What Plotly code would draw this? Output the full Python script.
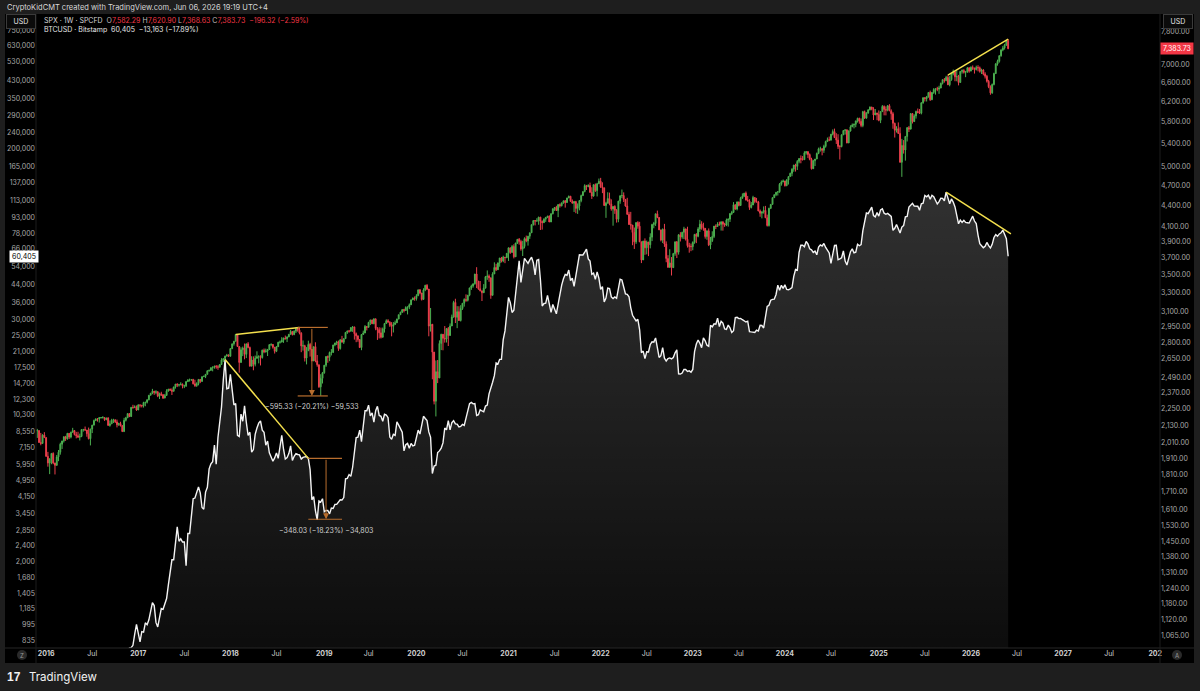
import math
import pandas as pd
import plotly.graph_objects as go

# ---------------- data (weekly bars, Monday dated) ----------------
week0 = "2015-11-23"

spx_first_open = 2089
spx_last_open = 7582.29

spx_close = [
    2090, 2092, 2012, 2005, 2061, 2044,
    1922, 1880, 1906, 1940, 1880, 1865, 1918, 1948, 2000, 2022, 2050, 2036, 2073, 2048, 2081, 2092, 2065, 2057, 2047, 2052, 2099, 2099, 2096, 2071, 2037, 2103, 2130, 2162, 2175, 2174, 2183, 2184, 2184, 2169, 2180, 2128, 2139, 2165, 2168, 2153, 2133, 2141, 2126, 2085, 2164, 2182, 2213, 2192, 2259, 2258, 2263, 2239,
    2277, 2275, 2271, 2295, 2297, 2316, 2351, 2367, 2383, 2373, 2378, 2344, 2363, 2355, 2329, 2349, 2384, 2399, 2391, 2382, 2416, 2439, 2432, 2433, 2438, 2423, 2425, 2459, 2472, 2472, 2476, 2441, 2426, 2443, 2477, 2461, 2500, 2502, 2519, 2549, 2553, 2575, 2581, 2588, 2582, 2579, 2602, 2642, 2652, 2675, 2683, 2674,
    2743, 2786, 2810, 2873, 2762, 2620, 2732, 2747, 2691, 2786, 2752, 2588, 2641, 2604, 2656, 2670, 2670, 2663, 2728, 2713, 2721, 2735, 2779, 2780, 2755, 2718, 2760, 2801, 2802, 2819, 2840, 2833, 2850, 2875, 2902, 2872, 2905, 2930, 2914, 2886, 2767, 2768, 2658, 2723, 2781, 2736, 2633, 2760, 2633, 2600, 2417, 2486, 2532,
    2596, 2671, 2665, 2707, 2708, 2776, 2793, 2804, 2743, 2822, 2801, 2834, 2893, 2907, 2905, 2940, 2946, 2881, 2860, 2826, 2752, 2873, 2887, 2950, 2942, 2990, 3014, 2977, 3026, 2932, 2919, 2889, 2847, 2926, 2979, 3007, 2992, 2962, 2952, 2970, 2986, 3023, 3067, 3093, 3120, 3110, 3141, 3146, 3169, 3221, 3240, 3235,
    3265, 3330, 3295, 3226, 3328, 3380, 3338, 2954, 2972, 2711, 2305, 2541, 2489, 2790, 2875, 2837, 2831, 2930, 2864, 2955, 3044, 3194, 3041, 3098, 3009, 3130, 3185, 3225, 3216, 3271, 3351, 3373, 3397, 3508, 3427, 3341, 3319, 3298, 3348, 3477, 3484, 3465, 3270, 3509, 3585, 3558, 3638, 3699, 3663, 3709, 3703, 3756,
    3825, 3768, 3841, 3714, 3887, 3934, 3907, 3811, 3842, 3943, 3913, 3975, 4020, 4129, 4185, 4180, 4181, 4233, 4174, 4156, 4204, 4230, 4247, 4166, 4281, 4352, 4370, 4327, 4412, 4395, 4437, 4468, 4442, 4509, 4535, 4459, 4433, 4455, 4357, 4391, 4471, 4545, 4605, 4697, 4683, 4698, 4595, 4538, 4712, 4621, 4726, 4766,
    4677, 4663, 4398, 4432, 4501, 4419, 4349, 4385, 4329, 4204, 4463, 4543, 4546, 4488, 4392, 4272, 4132, 4123, 4024, 3901, 4158, 4109, 3901, 3675, 3912, 3825, 3899, 3863, 3962, 4130, 4145, 4280, 4228, 4058, 3924, 4067, 3873, 3693, 3586, 3640, 3583, 3753, 3901, 3771, 3993, 3965, 4026, 4072, 3934, 3852, 3845, 3840,
    3895, 3999, 3973, 4071, 4136, 4090, 4079, 3970, 4046, 3862, 3917, 3971, 4109, 4105, 4138, 4133, 4169, 4136, 4124, 4192, 4205, 4282, 4299, 4410, 4348, 4450, 4399, 4505, 4536, 4582, 4478, 4464, 4370, 4406, 4516, 4457, 4450, 4320, 4288, 4308, 4328, 4224, 4117, 4358, 4415, 4514, 4559, 4595, 4604, 4719, 4755, 4770,
    4697, 4784, 4840, 4891, 4959, 5027, 5006, 5089, 5137, 5124, 5117, 5234, 5254, 5204, 5123, 4967, 5100, 5128, 5223, 5303, 5305, 5278, 5347, 5432, 5465, 5460, 5567, 5615, 5505, 5459, 5347, 5344, 5554, 5634, 5648, 5408, 5626, 5703, 5738, 5751, 5815, 5865, 5808, 5729, 5996, 5870, 5969, 6032, 6090, 6051, 5931, 5971, 5942,
    5827, 5997, 6101, 6041, 6026, 6115, 6013, 5955, 5770, 5639, 5668, 5581, 5074, 5363, 5283, 5525, 5687, 5660, 5958, 5803, 5912, 6000, 5977, 5967, 6173, 6280, 6260, 6297, 6389, 6238, 6389, 6450, 6467, 6460, 6482, 6584, 6664, 6644, 6716, 6553, 6664, 6792, 6840, 6728, 6734, 6603, 6849, 6870, 6827, 6834, 6930, 6858,
    6940, 6920, 6890, 6940, 6930, 6850, 6880, 6790, 6740, 6630, 6510, 6380, 6560, 6800, 7020, 7080, 7210, 7350, 7400, 7470, 7580.05, 7383.73,
]

spx_high = [
    2095, 2104, 2090, 2076, 2067, 2081,
    2038, 1950, 1908, 1940, 1947, 1881, 1930, 1962, 2010, 2022, 2052, 2056, 2076, 2075, 2084, 2111, 2096, 2083, 2084, 2071, 2100, 2104, 2120, 2094, 2113, 2104, 2132, 2169, 2175, 2177, 2188, 2188, 2194, 2186, 2184, 2187, 2163, 2175, 2175, 2169, 2169, 2147, 2154, 2131, 2182, 2189, 2214, 2214, 2260, 2278, 2274, 2273,
    2282, 2279, 2276, 2301, 2300, 2319, 2352, 2368, 2401, 2383, 2390, 2382, 2371, 2378, 2360, 2361, 2398, 2399, 2403, 2405, 2418, 2440, 2446, 2441, 2454, 2444, 2434, 2464, 2479, 2484, 2480, 2482, 2474, 2454, 2480, 2470, 2500, 2509, 2520, 2552, 2557, 2575, 2582, 2588, 2597, 2597, 2605, 2657, 2652, 2679, 2695, 2692,
    2743, 2787, 2810, 2873, 2870, 2763, 2754, 2761, 2789, 2786, 2802, 2761, 2674, 2673, 2680, 2718, 2683, 2682, 2733, 2743, 2742, 2736, 2779, 2791, 2774, 2746, 2764, 2804, 2816, 2848, 2842, 2863, 2855, 2877, 2916, 2901, 2912, 2941, 2939, 2941, 2895, 2817, 2777, 2756, 2815, 2795, 2718, 2760, 2800, 2685, 2601, 2520, 2539,
    2597, 2675, 2681, 2716, 2738, 2776, 2795, 2814, 2816, 2831, 2860, 2836, 2894, 2910, 2917, 2940, 2954, 2939, 2892, 2865, 2830, 2876, 2910, 2964, 2951, 2996, 3017, 3018, 3028, 3027, 2944, 2943, 2939, 2940, 2985, 3021, 3022, 3002, 2993, 2993, 3008, 3027, 3067, 3097, 3121, 3127, 3154, 3150, 3183, 3226, 3247, 3258,
    3282, 3330, 3337, 3285, 3347, 3385, 3393, 3259, 3136, 2882, 2553, 2637, 2641, 2818, 2880, 2871, 2954, 2934, 2945, 2980, 3068, 3211, 3233, 3155, 3154, 3165, 3186, 3238, 3280, 3272, 3352, 3387, 3399, 3509, 3588, 3425, 3428, 3320, 3393, 3486, 3550, 3503, 3466, 3529, 3646, 3628, 3645, 3699, 3712, 3727, 3711, 3760,
    3827, 3823, 3860, 3870, 3887, 3937, 3951, 3928, 3915, 3960, 3983, 3978, 4020, 4130, 4191, 4193, 4218, 4238, 4236, 4187, 4218, 4234, 4250, 4257, 4287, 4356, 4372, 4394, 4415, 4430, 4443, 4469, 4480, 4513, 4545, 4540, 4487, 4465, 4466, 4429, 4475, 4560, 4608, 4718, 4708, 4718, 4744, 4672, 4713, 4731, 4740, 4808,
    4819, 4749, 4665, 4453, 4595, 4590, 4489, 4386, 4402, 4347, 4466, 4546, 4637, 4594, 4471, 4512, 4308, 4307, 4081, 4090, 4158, 4177, 4168, 3838, 3913, 3946, 3918, 3880, 4013, 4141, 4167, 4281, 4325, 4203, 4062, 4077, 4140, 3907, 3733, 3807, 3710, 3762, 3905, 3912, 4002, 4028, 4034, 4100, 4052, 4101, 3889, 3879,
    3907, 4003, 4015, 4095, 4195, 4176, 4156, 4051, 4048, 4078, 3965, 4040, 4110, 4133, 4163, 4170, 4170, 4167, 4154, 4213, 4212, 4291, 4322, 4448, 4409, 4458, 4456, 4527, 4578, 4582, 4607, 4540, 4491, 4449, 4542, 4515, 4511, 4466, 4341, 4311, 4386, 4393, 4268, 4366, 4421, 4521, 4560, 4596, 4609, 4738, 4778, 4793,
    4755, 4799, 4842, 4903, 4975, 5030, 5049, 5111, 5141, 5189, 5179, 5262, 5265, 5263, 5224, 5150, 5114, 5129, 5239, 5325, 5341, 5315, 5376, 5448, 5506, 5523, 5570, 5655, 5670, 5585, 5566, 5370, 5562, 5643, 5651, 5650, 5636, 5733, 5767, 5765, 5822, 5878, 5878, 5863, 6012, 6018, 5985, 6044, 6099, 6085, 6085, 6049, 5966,
    6021, 6000, 6128, 6120, 6101, 6128, 6147, 6043, 5987, 5783, 5715, 5787, 5695, 5481, 5459, 5528, 5700, 5720, 5964, 5968, 5944, 6017, 6059, 6050, 6187, 6284, 6291, 6316, 6395, 6428, 6395, 6481, 6470, 6509, 6532, 6600, 6672, 6700, 6750, 6764, 6744, 6808, 6890, 6850, 6870, 6770, 6855, 6895, 6900, 6860, 6945, 6945,
    6965, 6985, 6935, 6980, 6990, 6960, 6910, 6900, 6830, 6770, 6660, 6540, 6580, 6820, 7040, 7120, 7230, 7370, 7450, 7500, 7600, 7620.90,
]

spx_low = [
    2070, 2042, 2008, 1993, 2005, 2043,
    1918, 1857, 1812, 1872, 1872, 1810, 1871, 1891, 1932, 1969, 2011, 2022, 2030, 2035, 2039, 2077, 2059, 2039, 2043, 2025, 2047, 2085, 2090, 2050, 2032, 1992, 2075, 2131, 2159, 2155, 2148, 2177, 2177, 2160, 2165, 2127, 2119, 2139, 2145, 2145, 2114, 2125, 2121, 2084, 2084, 2156, 2183, 2187, 2188, 2248, 2253, 2233,
    2245, 2258, 2258, 2257, 2267, 2288, 2312, 2355, 2359, 2354, 2359, 2336, 2322, 2345, 2322, 2328, 2374, 2379, 2386, 2353, 2384, 2403, 2415, 2419, 2431, 2405, 2407, 2416, 2457, 2459, 2466, 2437, 2417, 2417, 2429, 2447, 2474, 2496, 2488, 2520, 2541, 2547, 2544, 2566, 2566, 2557, 2576, 2598, 2624, 2640, 2676, 2673,
    2682, 2737, 2769, 2808, 2759, 2533, 2648, 2675, 2647, 2658, 2745, 2585, 2594, 2553, 2586, 2660, 2612, 2594, 2653, 2701, 2707, 2676, 2731, 2765, 2742, 2698, 2711, 2770, 2788, 2800, 2795, 2827, 2802, 2848, 2877, 2864, 2867, 2887, 2900, 2874, 2710, 2724, 2628, 2603, 2722, 2671, 2631, 2649, 2621, 2583, 2409, 2346, 2444,
    2524, 2582, 2617, 2631, 2681, 2705, 2764, 2775, 2722, 2733, 2800, 2785, 2848, 2879, 2891, 2900, 2898, 2825, 2801, 2805, 2750, 2728, 2874, 2887, 2912, 2955, 2964, 2975, 2972, 2914, 2822, 2836, 2835, 2855, 2891, 2980, 2990, 2946, 2856, 2892, 2967, 2991, 3024, 3067, 3084, 3091, 3121, 3070, 3124, 3184, 3223, 3212,
    3214, 3264, 3281, 3214, 3234, 3315, 3328, 2856, 2901, 2478, 2281, 2192, 2447, 2632, 2729, 2727, 2797, 2798, 2766, 2909, 2970, 3037, 2984, 2934, 3004, 2999, 3116, 3150, 3200, 3204, 3260, 3329, 3354, 3387, 3349, 3330, 3313, 3209, 3323, 3354, 3441, 3419, 3233, 3279, 3511, 3543, 3564, 3594, 3645, 3647, 3636, 3697,
    3663, 3750, 3784, 3694, 3725, 3874, 3865, 3789, 3723, 3818, 3896, 3853, 3940, 4035, 4117, 4119, 4172, 4128, 4057, 4062, 4155, 4167, 4219, 4165, 4165, 4272, 4321, 4320, 4233, 4368, 4385, 4425, 4368, 4446, 4513, 4457, 4428, 4306, 4288, 4278, 4329, 4446, 4540, 4595, 4630, 4672, 4585, 4495, 4529, 4600, 4532, 4733,
    4662, 4582, 4395, 4223, 4431, 4402, 4324, 4115, 4279, 4157, 4162, 4424, 4507, 4450, 4381, 4267, 4124, 4062, 3858, 3811, 3875, 4074, 3900, 3637, 3705, 3738, 3743, 3722, 3818, 3911, 4080, 4112, 4218, 4058, 3907, 3886, 3837, 3647, 3584, 3637, 3491, 3590, 3726, 3698, 3740, 3906, 3941, 3938, 3918, 3828, 3764, 3783,
    3794, 3877, 3885, 3961, 4031, 4061, 4047, 3943, 3928, 3847, 3808, 3899, 3950, 4069, 4099, 4114, 4049, 4048, 4099, 4109, 4103, 4166, 4261, 4328, 4337, 4328, 4385, 4405, 4499, 4523, 4474, 4463, 4335, 4356, 4415, 4431, 4445, 4316, 4238, 4216, 4283, 4223, 4104, 4103, 4347, 4412, 4511, 4537, 4546, 4587, 4696, 4751,
    4682, 4688, 4714, 4842, 4845, 4918, 4920, 4946, 5057, 5057, 5104, 5118, 5203, 5146, 5107, 4953, 5000, 5011, 5127, 5211, 5256, 5191, 5234, 5324, 5432, 5440, 5447, 5545, 5497, 5390, 5302, 5120, 5330, 5561, 5560, 5403, 5406, 5615, 5703, 5674, 5696, 5784, 5762, 5696, 5696, 5853, 5858, 5955, 6023, 6024, 5833, 5933, 5829,
    5809, 5774, 6001, 5924, 5923, 6003, 6008, 5837, 5667, 5505, 5597, 5573, 5069, 4835, 5221, 5101, 5434, 5607, 5773, 5767, 5845, 5861, 5963, 5952, 5943, 6157, 6201, 6201, 6281, 6212, 6229, 6359, 6343, 6415, 6360, 6482, 6560, 6600, 6630, 6550, 6520, 6640, 6760, 6630, 6630, 6540, 6600, 6800, 6800, 6720, 6820, 6820,
    6850, 6880, 6800, 6870, 6850, 6820, 6790, 6760, 6690, 6600, 6480, 6340, 6360, 6540, 6790, 6980, 7050, 7190, 7320, 7360, 7450, 7368.63,
]

btc_close = [
    363, 390, 434, 442, 422, 432,
    448, 382, 381, 376, 373, 380, 437, 433, 410, 413, 412, 416, 420, 420, 426, 445, 455, 460, 456, 440, 470, 530, 580, 763, 660, 700, 652, 665, 661, 655, 590, 567, 581, 570, 608, 606, 608, 604, 612, 616, 638, 652, 700, 705, 702, 730, 735, 765, 770, 790, 895, 998,
    905, 820, 920, 915, 1015, 995, 1050, 1150, 1270, 1230, 1020, 970, 1080, 1190, 1180, 1240, 1330, 1550, 1750, 2050, 2050, 2520, 2960, 2520, 2590, 2500, 2500, 1920, 2750, 2750, 3240, 4050, 4080, 4350, 4620, 4320, 3670, 3600, 4360, 4600, 5650, 5970, 6120, 7360, 5950, 8040, 9730, 11250, 15200, 19100, 13800, 13880,
    16200, 13580, 11530, 11700, 8200, 8100, 10400, 9600, 11400, 9500, 8200, 8500, 6800, 7000, 8300, 8900, 9400, 9650, 8700, 8500, 7350, 7700, 6750, 6450, 6150, 6380, 6750, 6350, 7400, 8200, 7030, 6300, 6400, 6700, 7300, 6200, 6500, 6700, 6630, 6600, 6300, 6420, 6460, 6480, 6350, 5600, 4000, 4150, 3550, 3200, 3950, 3900, 4050,
    3500, 3550, 3550, 3420, 3650, 3630, 3800, 3800, 3930, 4000, 3990, 4100, 5050, 5080, 5300, 5200, 5750, 6950, 8000, 8050, 8700, 7650, 8850, 10800, 10800, 11500, 10200, 10550, 9500, 10800, 11350, 10250, 10150, 9600, 10380, 10300, 10000, 8050, 7850, 8300, 8200, 9550, 9200, 8800, 8500, 6900, 7400, 7500, 7100, 7500, 7300, 7350,
    8100, 8700, 8330, 9350, 10150, 9900, 9680, 8530, 8030, 5360, 5830, 5880, 6780, 6900, 7120, 7540, 8900, 8730, 9680, 8720, 9450, 9670, 9330, 9300, 9010, 9070, 9280, 9170, 9930, 11060, 11680, 11850, 11660, 11700, 10250, 10330, 10920, 10770, 10670, 11380, 11500, 13030, 13770, 14840, 15960, 18400, 18180, 19150, 19170, 23860, 26300, 33000,
    38200, 36000, 32300, 33100, 39000, 48600, 57500, 45200, 51200, 59000, 57400, 55800, 58000, 59800, 56200, 49100, 57800, 58300, 46500, 34700, 35700, 35800, 39100, 35500, 32300, 35300, 33800, 31800, 35400, 39900, 43800, 47000, 49300, 48900, 51800, 46100, 47300, 43200, 48200, 54700, 61500, 61300, 61300, 63300, 65500, 58700, 57300, 49400, 50100, 46700, 50800, 47300,
    41800, 43100, 36300, 37900, 42400, 42200, 38400, 37700, 38400, 37800, 41300, 46800, 46400, 42200, 39700, 39500, 38500, 34000, 31300, 30300, 29400, 29900, 26600, 20600, 21000, 19300, 20850, 20800, 22600, 23300, 23200, 24300, 21500, 19550, 19950, 21800, 19400, 18800, 19300, 19450, 19250, 19550, 20600, 21300, 16300, 16250, 16450, 17100, 17100, 16750, 16840, 16600,
    17120, 20880, 22700, 23750, 22930, 21800, 24300, 23550, 22430, 22150, 28000, 27500, 28450, 28330, 30300, 27600, 29250, 28700, 26900, 26750, 28070, 27220, 25850, 26340, 30530, 30600, 30170, 30240, 29790, 29280, 29050, 29300, 26100, 26000, 25870, 25840, 26530, 26250, 27980, 27930, 27160, 29990, 34530, 35020, 37050, 37360, 37450, 39460, 43780, 41370, 43700, 42280,
    43950, 41730, 41580, 42030, 42580, 48300, 52130, 51730, 63110, 68360, 68400, 67210, 71280, 69360, 65660, 64940, 63100, 64010, 61450, 66940, 68510, 67760, 69650, 66650, 64260, 62680, 55860, 60800, 68150, 68250, 58110, 58710, 59460, 64170, 57300, 54840, 59130, 63580, 65630, 62820, 63190, 69030, 67940, 68780, 80440, 89850, 97900, 97280, 101150, 104470, 95190, 93720, 98330,
    94510, 101300, 102600, 97700, 96500, 97500, 96150, 94300, 80700, 82580, 86080, 82340, 78370, 83700, 85080, 93750, 94300, 104600, 106450, 109000, 105700, 105650, 105500, 100900, 108400, 109200, 119100, 117300, 119400, 114200, 119300, 117400, 113500, 108250, 111150, 115350, 115300, 112200, 123500, 114900, 108600, 114500, 110600, 104700, 94500, 86800, 90400, 88200, 90300, 88100, 87800, 87500,
    91000, 94500, 89500, 87000, 76500, 69500, 68000, 66500, 67500, 70500, 68000, 66300, 69000, 74500, 77000, 75500, 77500, 78500, 80900, 77000, 73568, 60405,
]

btc_ticks = [835, 995, 1185, 1405, 1680, 2000, 2400, 2850, 3450, 4150, 4950, 5950, 7150, 8550,
             10300, 12300, 14700, 17500, 21000, 25000, 30000, 36000, 44000, 54000, 66000, 78000,
             93000, 113000, 137000, 165000, 200000, 240000, 290000, 350000, 430000, 530000, 630000, 750000]
spx_ticks = [1065, 1120, 1180, 1240, 1310, 1380, 1450, 1530, 1610, 1710, 1810, 1910, 2010, 2130,
             2250, 2370, 2490, 2650, 2800, 2950, 3100, 3300, 3500, 3700, 3900, 4100, 4400, 4700,
             5000, 5400, 5800, 6200, 6600, 7000, 7800]

x_tick_dates = ["2016-01-04", "2016-07-04", "2017-01-02", "2017-07-03", "2018-01-01", "2018-07-02",
                "2019-01-07", "2019-07-01", "2020-01-06", "2020-07-06", "2021-01-04", "2021-07-05",
                "2022-01-03", "2022-07-04", "2023-01-02", "2023-07-03", "2024-01-01", "2024-07-01",
                "2025-01-06", "2025-07-07", "2026-01-05", "2026-07-06", "2027-01-04", "2027-07-05",
                "2028-01-03"]
x_tick_text = ["2016", "Jul", "2017", "Jul", "2018", "Jul", "2019", "Jul", "2020", "Jul", "2021", "Jul",
               "2022", "Jul", "2023", "Jul", "2024", "Jul", "2025", "Jul", "2026", "Jul", "2027", "Jul", "202"]

# user drawings (date, price) anchors
spx_trend_18 = [("2018-01-22", 2873), ("2018-10-01", 2940.91)]
btc_trend_18 = [("2017-12-11", 19100), ("2018-11-05", 6350)]
spx_trend_26 = [("2025-10-06", 6764), ("2026-06-01", 7620.90)]
btc_trend_26 = [("2025-09-29", 123500), ("2026-06-12", 77500)]
spx_range_18 = dict(x0="2018-09-24", x1="2019-01-21", xm="2018-11-19", top=2940.91, bottom=2345.58,
                    label="−595.33 (−20.21%) −59,533")
btc_range_18 = dict(x0="2018-11-05", x1="2019-03-18", xm="2019-01-14", top=1909.06, bottom=1561.03,
                    label="−348.03 (−18.23%) −34,803")

# ---------------- styling ----------------
W, H = 1200, 691
ML, MR, MT, MB = 36, 40, 15, 43
PW, PH = W - ML - MR, H - MT - MB
FONT = "Inter, Roboto, Arial, sans-serif"
GREEN = "#4caf50"
RED = "#ec3f4c"
YELLOW = "#f4e04d"
ORANGE = "#b96e2e"
FRAME = "#1e1e1e"


def px(x):
    return (x - ML) / PW


def py(y):
    return 1 - (y - MT) / PH


spx_dates = pd.date_range(week0, periods=len(spx_close), freq="7D")
btc_dates = pd.date_range(week0, periods=len(btc_close), freq="7D")
spx_open = [spx_first_open] + spx_close[:-1]
spx_open[-1] = spx_last_open

fig = go.Figure()

fig.add_trace(go.Scatter(
    x=btc_dates, y=btc_close, mode="lines", yaxis="y",
    line=dict(color="#f4f4f4", width=1.4),
    fill="tozeroy",
    fillgradient=dict(type="vertical", start=770, stop=max(btc_close),
                      colorscale=[[0, "rgba(255,255,255,0.05)"], [1, "rgba(255,255,255,0.19)"]]),
    hoverinfo="skip", showlegend=False,
))

fig.add_trace(go.Candlestick(
    x=spx_dates, open=spx_open, high=spx_high, low=spx_low, close=spx_close,
    yaxis="y2", whiskerwidth=0,
    increasing=dict(line=dict(color=GREEN, width=1), fillcolor=GREEN),
    decreasing=dict(line=dict(color=RED, width=1), fillcolor=RED),
    hoverinfo="skip", showlegend=False,
))

shapes = [
    # chart panel
    dict(type="rect", xref="paper", yref="paper", x0=px(5), x1=px(1194), y0=py(663), y1=py(14),
         fillcolor="#000000", line=dict(width=0), layer="below"),
    dict(type="line", xref="paper", yref="paper", x0=px(5), x1=px(1194), y0=0, y1=0,
         line=dict(color="#262626", width=1)),
    dict(type="line", xref="paper", yref="paper", x0=1, x1=1, y0=py(663), y1=py(14),
         line=dict(color="#1c1c1c", width=1)),
    dict(type="line", xref="paper", yref="paper", x0=0, x1=0, y0=py(663), y1=py(14),
         line=dict(color="#1c1c1c", width=1)),
    # Z / A buttons
    dict(type="circle", xref="paper", yref="paper", x0=px(17), x1=px(27), y0=py(660), y1=py(650),
         fillcolor="#2a2a2a", line=dict(width=0)),
    dict(type="circle", xref="paper", yref="paper", x0=px(1172), x1=px(1182), y0=py(660), y1=py(650),
         fillcolor="#2a2a2a", line=dict(width=0)),
]

for (a, b), yref in [(spx_trend_18, "y2"), (btc_trend_18, "y"), (spx_trend_26, "y2"), (btc_trend_26, "y")]:
    shapes.append(dict(type="line", xref="x", yref=yref, x0=a[0], y0=a[1], x1=b[0], y1=b[1],
                       line=dict(color=YELLOW, width=1.5)))

annotations = []
for r in (spx_range_18, btc_range_18):
    for lvl in (r["top"], r["bottom"]):
        shapes.append(dict(type="line", xref="x", yref="y2", x0=r["x0"], x1=r["x1"], y0=lvl, y1=lvl,
                           line=dict(color=ORANGE, width=1.2)))
    annotations.append(dict(
        x=r["xm"], y=math.log10(r["bottom"]), xref="x", yref="y2",
        ax=r["xm"], ay=math.log10(r["top"]), axref="x", ayref="y2",
        text="", showarrow=True, arrowhead=2, arrowsize=1.2, arrowwidth=1, arrowcolor=ORANGE,
    ))
    annotations.append(dict(
        x=r["xm"], y=math.log10(r["bottom"]), xref="x", yref="y2", yshift=-11,
        text=r["label"], showarrow=False, font=dict(size=7, color="#cfcfcf", family=FONT),
    ))

legend1 = ("<span style='color:#d6d6d6'>SPX · 1W · SPCFD</span>  "
           "<span style='color:#bdbdbd'>O</span><span style='color:#f23645'>7,582.29</span> "
           "<span style='color:#bdbdbd'>H</span><span style='color:#f23645'>7,620.90</span> "
           "<span style='color:#bdbdbd'>L</span><span style='color:#f23645'>7,368.63</span> "
           "<span style='color:#bdbdbd'>C</span><span style='color:#f23645'>7,383.73</span>  "
           "<span style='color:#f23645'>−196.32 (−2.59%)</span>")
legend2 = "BTCUSD · Bitstamp  60,405  −13,163 (−17.89%)"

annotations += [
    dict(xref="paper", yref="paper", x=px(5), y=py(7), xanchor="left", yanchor="middle", showarrow=False,
         text="CryptoKidCMT created with TradingView.com, Jun 06, 2026 19:19 UTC+4",
         font=dict(size=7.5, color="#d8d8d8", family=FONT)),
    dict(xref="paper", yref="paper", x=px(42), y=py(20.5), xanchor="left", yanchor="middle", showarrow=False,
         text=legend1, font=dict(size=7, color="#d6d6d6", family=FONT)),
    dict(xref="paper", yref="paper", x=px(42), y=py(29.5), xanchor="left", yanchor="middle", showarrow=False,
         text=legend2, font=dict(size=7, color="#e6e6e6", family=FONT)),
    dict(xref="paper", yref="paper", x=px(21), y=py(21.5), xanchor="center", yanchor="middle", showarrow=False,
         text="USD", font=dict(size=7, color="#e6e6e6", family=FONT), bgcolor="#0b0b0b",
         bordercolor="#3a3a3a", borderwidth=1, borderpad=2, width=24),
    dict(xref="paper", yref="paper", x=px(1178), y=py(21.5), xanchor="center", yanchor="middle", showarrow=False,
         text="USD", font=dict(size=7, color="#e6e6e6", family=FONT), bgcolor="#0b0b0b",
         bordercolor="#3a3a3a", borderwidth=1, borderpad=2, width=24),
    dict(xref="paper", yref="y", x=px(24), y=math.log10(btc_close[-1]), xanchor="center", yanchor="middle",
         showarrow=False, text=f"{btc_close[-1]:,}", font=dict(size=7, color="#000000", family=FONT),
         bgcolor="#ffffff", borderpad=1, width=26),
    dict(xref="paper", yref="y2", x=px(1177), y=math.log10(spx_close[-1]), xanchor="center", yanchor="middle",
         showarrow=False, text=f"{spx_close[-1]:,.2f}", font=dict(size=7, color="#ffffff", family=FONT),
         bgcolor="#f23645", borderpad=1, width=30),
    dict(xref="paper", yref="paper", x=px(22), y=py(655), xanchor="center", yanchor="middle", showarrow=False,
         text="Z", font=dict(size=6, color="#9a9a9a", family=FONT)),
    dict(xref="paper", yref="paper", x=px(1177), y=py(655), xanchor="center", yanchor="middle", showarrow=False,
         text="A", font=dict(size=6, color="#9a9a9a", family=FONT)),
    dict(xref="paper", yref="paper", x=px(5), y=py(676.5), xanchor="left", yanchor="middle", showarrow=False,
         text="<b>17</b>", font=dict(size=12, color="#f2f2f2", family="Arial Black, Arial, sans-serif")),
    dict(xref="paper", yref="paper", x=px(27), y=py(676.5), xanchor="left", yanchor="middle", showarrow=False,
         text="TradingView", font=dict(size=11.5, color="#f2f2f2", family=FONT)),
]

fig.update_layout(
    width=W, height=H,
    margin=dict(l=ML, r=MR, t=MT, b=MB, pad=0, autoexpand=False),
    paper_bgcolor=FRAME, plot_bgcolor="#000000",
    showlegend=False, hovermode=False,
    font=dict(family=FONT, size=7, color="#a8a8a8"),
    xaxis=dict(type="date", range=["2015-11-25", "2028-01-22"], rangeslider=dict(visible=False),
               tickvals=x_tick_dates,
               ticktext=[t if t == "Jul" else f"<b>{t}</b>" for t in x_tick_text],
               ticks="", showgrid=False, zeroline=False, automargin=False,
               showline=False, tickfont=dict(size=7, color="#d0d0d0", family=FONT)),
    yaxis=dict(type="log", side="left", range=[2.8846, 5.9494], tickvals=btc_ticks,
               ticktext=[f"{v:,}" for v in btc_ticks], ticks="", showgrid=False, zeroline=False,
               showline=False, automargin=False, tickfont=dict(size=7, color="#a8a8a8", family=FONT)),
    yaxis2=dict(type="log", side="right", overlaying="y", range=[3.0088, 3.9165], tickvals=spx_ticks,
                ticktext=[f"{v:,.2f}" for v in spx_ticks], ticks="", showgrid=False, zeroline=False,
                showline=False, automargin=False, tickfont=dict(size=7, color="#a8a8a8", family=FONT)),
    shapes=shapes,
    annotations=annotations,
)

# page margin off so the figure sits at the window origin
fig.write_html("out.html", config={"displayModeBar": False},
               post_script="document.body.style.margin='0';document.body.style.overflow='hidden';")
